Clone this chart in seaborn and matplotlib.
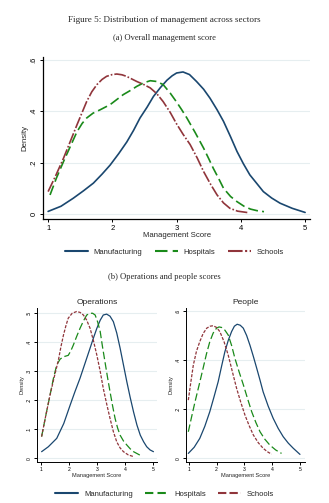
import numpy as np
import pandas as pd
import matplotlib
matplotlib.use("Agg")
import matplotlib.pyplot as plt
import seaborn as sns
from matplotlib.lines import Line2D

sns.set_theme(style="white")
plt.rcParams['font.family'] = ['Liberation Sans', 'DejaVu Sans']
plt.rcParams['lines.solid_joinstyle'] = 'round'
plt.rcParams['lines.dash_joinstyle'] = 'round'

sectors = ["Manufacturing", "Hospitals", "Schools"]
colors = {"Manufacturing": "#1a476f", "Hospitals": "#1a8a1a", "Schools": "#90353b"}

# (a) Overall management score - density curves
ov_man_x = [1.0, 1.2, 1.39, 1.55, 1.705, 1.84, 1.965, 2.1, 2.225, 2.33, 2.43, 2.54, 2.64, 2.75, 2.85, 2.93, 3.0, 3.1,
            3.2, 3.31, 3.42, 3.52, 3.63, 3.73, 3.84, 3.94, 4.04, 4.14, 4.25, 4.35, 4.48, 4.61, 4.8, 5.0]
ov_man_y = [0.010, 0.030, 0.061, 0.090, 0.12, 0.155, 0.19, 0.235, 0.28, 0.325, 0.373, 0.415, 0.457, 0.492, 0.52,
            0.537, 0.548, 0.552, 0.542, 0.515, 0.485, 0.45, 0.405, 0.36, 0.30, 0.243, 0.195, 0.152, 0.118, 0.087,
            0.062, 0.042, 0.022, 0.006]
ov_hos_x = [1.03, 1.13, 1.24, 1.35, 1.45, 1.53, 1.60, 1.70, 1.81, 1.965, 2.07, 2.17, 2.28, 2.38, 2.49, 2.59, 2.69,
            2.79, 2.9, 3.0, 3.08, 3.16, 3.29, 3.42, 3.5, 3.57, 3.65, 3.73, 3.84, 3.94, 4.05, 4.15, 4.25, 4.36]
ov_hos_y = [0.074, 0.14, 0.204, 0.265, 0.32, 0.352, 0.373, 0.392, 0.405, 0.425, 0.445, 0.464, 0.48, 0.496, 0.51,
            0.518, 0.515, 0.503, 0.47, 0.435, 0.405, 0.373, 0.316, 0.256, 0.215, 0.178, 0.14, 0.10, 0.068, 0.048,
            0.030, 0.019, 0.013, 0.009]
ov_sch_x = [1.0, 1.12, 1.24, 1.35, 1.45, 1.53, 1.60, 1.68, 1.76, 1.84, 1.91, 2.0, 2.07, 2.15, 2.22, 2.3, 2.38, 2.49,
            2.59, 2.69, 2.79, 2.9, 3.0, 3.1, 3.21, 3.32, 3.42, 3.53, 3.63, 3.73, 3.83, 3.95, 4.12]
ov_sch_y = [0.087, 0.15, 0.217, 0.285, 0.347, 0.395, 0.437, 0.475, 0.503, 0.523, 0.535, 0.542, 0.544, 0.541,
            0.535, 0.525, 0.515, 0.503, 0.49, 0.468, 0.437, 0.395, 0.35, 0.31, 0.27, 0.218, 0.165, 0.115, 0.074,
            0.043, 0.022, 0.011, 0.005]

# (b) Operations
op_man_x = [1.01, 1.25, 1.55, 1.8, 2.03, 2.2, 2.38, 2.56, 2.74, 2.86, 2.98, 3.1, 3.21, 3.33, 3.45, 3.57, 3.69,
            3.81, 3.93, 4.05, 4.17, 4.29, 4.41, 4.53, 4.65, 4.76, 4.88, 5.0]
op_man_y = [0.023, 0.04, 0.069, 0.12, 0.184, 0.23, 0.276, 0.328, 0.38, 0.415, 0.448, 0.476, 0.494, 0.497, 0.49,
            0.471, 0.432, 0.38, 0.322, 0.264, 0.21, 0.16, 0.115, 0.08, 0.057, 0.04, 0.029, 0.023]
op_hos_x = [1.01, 1.16, 1.31, 1.43, 1.55, 1.67, 1.79, 1.96, 2.05, 2.14, 2.26, 2.38, 2.5, 2.62, 2.74, 2.83, 2.92,
            3.01, 3.1, 3.18, 3.27, 3.36, 3.45, 3.54, 3.63, 3.72, 3.81, 3.93, 4.05, 4.17, 4.29, 4.52]
op_hos_y = [0.075, 0.148, 0.218, 0.275, 0.322, 0.342, 0.35, 0.355, 0.37, 0.39, 0.42, 0.448, 0.473, 0.494, 0.50,
            0.50, 0.494, 0.47, 0.437, 0.386, 0.333, 0.28, 0.23, 0.182, 0.138, 0.105, 0.08, 0.06, 0.046, 0.033,
            0.023, 0.011]
op_sch_x = [1.01, 1.16, 1.31, 1.46, 1.61, 1.70, 1.79, 1.88, 1.96, 2.1, 2.26, 2.38, 2.5, 2.62, 2.74, 2.86, 2.98,
            3.1, 3.21, 3.33, 3.45, 3.57, 3.69, 3.81, 3.93, 4.1, 4.29]
op_sch_y = [0.075, 0.148, 0.218, 0.28, 0.339, 0.385, 0.425, 0.458, 0.483, 0.5, 0.506, 0.503, 0.494, 0.476, 0.448,
            0.405, 0.356, 0.3, 0.241, 0.188, 0.138, 0.092, 0.057, 0.036, 0.023, 0.012, 0.006]

# (b) People
pe_man_x = [0.99, 1.2, 1.4, 1.58, 1.76, 1.91, 2.06, 2.18, 2.3, 2.42, 2.54, 2.64, 2.74, 2.85, 2.96, 3.08, 3.2,
            3.32, 3.44, 3.56, 3.67, 3.85, 4.03, 4.21, 4.39, 4.57, 4.75, 4.99]
pe_man_y = [0.02, 0.045, 0.081, 0.13, 0.19, 0.25, 0.312, 0.374, 0.434, 0.48, 0.516, 0.538, 0.546, 0.542, 0.53,
            0.5, 0.46, 0.415, 0.367, 0.318, 0.271, 0.213, 0.163, 0.122, 0.088, 0.062, 0.041, 0.016]
pe_hos_x = [0.99, 1.11, 1.23, 1.38, 1.52, 1.64, 1.76, 1.88, 2.0, 2.09, 2.18, 2.3, 2.42, 2.54, 2.66, 2.81, 2.96,
            3.11, 3.26, 3.41, 3.56, 3.73, 3.91, 4.12, 4.33]
pe_hos_y = [0.108, 0.17, 0.23, 0.30, 0.367, 0.425, 0.475, 0.51, 0.53, 0.535, 0.533, 0.522, 0.502, 0.46, 0.407,
            0.352, 0.30, 0.244, 0.19, 0.146, 0.108, 0.078, 0.054, 0.034, 0.02]
pe_sch_x = [0.99, 1.08, 1.17, 1.28, 1.4, 1.52, 1.65, 1.77, 1.88, 2.0, 2.12, 2.27, 2.42, 2.57, 2.72, 2.87, 3.02,
            3.17, 3.32, 3.5, 3.67, 3.82, 3.97]
pe_sch_y = [0.237, 0.31, 0.38, 0.435, 0.475, 0.508, 0.53, 0.538, 0.54, 0.533, 0.516, 0.475, 0.42, 0.352, 0.285,
            0.228, 0.176, 0.133, 0.095, 0.063, 0.041, 0.027, 0.017]

x_ticks = [1, 2, 3, 4, 5]


def frame(mx, my, hx, hy, sx, sy):
    parts = []
    for name, xs, ys in zip(sectors, [mx, hx, sx], [my, hy, sy]):
        parts.append(pd.DataFrame({"score": xs, "density": ys, "sector": name}))
    return pd.concat(parts, ignore_index=True)


df_ov = frame(ov_man_x, ov_man_y, ov_hos_x, ov_hos_y, ov_sch_x, ov_sch_y)
df_op = frame(op_man_x, op_man_y, op_hos_x, op_hos_y, op_sch_x, op_sch_y)
df_pe = frame(pe_man_x, pe_man_y, pe_hos_x, pe_hos_y, pe_sch_x, pe_sch_y)

dashes_top = {"Manufacturing": "", "Hospitals": (6, 2.5), "Schools": (7, 1.2, 1, 1.2)}
dashes_bot = {"Manufacturing": "", "Hospitals": (6, 2.5), "Schools": (2.5, 1.2)}

fig = plt.figure(figsize=(3.29, 5.03), dpi=100)
grid_c = "#e6eef0"
serif = ['Liberation Serif', 'DejaVu Serif']


def style(ax, yticks, ylabels, tfs, lfs, lw_axis=0.9):
    ax.set_yticks(yticks)
    ax.set_yticklabels(ylabels, rotation=90, va="center", fontsize=tfs)
    ax.set_xticks(x_ticks)
    ax.set_xticklabels([str(t) for t in x_ticks], fontsize=tfs)
    for s in ["top", "right"]:
        ax.spines[s].set_visible(False)
    for s in ["left", "bottom"]:
        ax.spines[s].set_color("black")
        ax.spines[s].set_linewidth(lw_axis)
    ax.tick_params(axis="both", which="both", length=2.5, width=0.7, pad=1.5,
                   left=True, bottom=True, colors="black")
    ax.grid(axis="y", color=grid_c, linewidth=0.8)
    ax.set_axisbelow(True)
    ax.set_xlabel("Management Score", fontsize=lfs, labelpad=0.5)
    ax.set_ylabel("Density", fontsize=lfs, labelpad=1.5)


# Top panel
ax1 = fig.add_axes([0.131, 0.5646, 0.8116, 0.322])
sns.lineplot(data=df_ov, x="score", y="density", hue="sector", style="sector",
             palette=colors, dashes=dashes_top, sort=False, linewidth=1.2,
             legend=False, ax=ax1, estimator=None)
ax1.set_xlim(0.922, 5.078)
ax1.set_ylim(-0.0195, 0.61)
style(ax1, [0, 0.2, 0.4, 0.6], ["0", ".2", ".4", ".6"], 5.5, 5.6)

# Operations
ax2 = fig.add_axes([0.1125, 0.082, 0.365, 0.3056])
sns.lineplot(data=df_op, x="score", y="density", hue="sector", style="sector",
             palette=colors, dashes=dashes_bot, sort=False, linewidth=0.9,
             legend=False, ax=ax2, estimator=None)
ax2.set_xlim(0.846, 5.13)
ax2.set_ylim(-0.0117, 0.518)
style(ax2, [0, 0.1, 0.2, 0.3, 0.4, 0.5], ["0", ".1", ".2", ".3", ".4", ".5"], 3.6, 4.1, 0.7)
ax2.set_title("Operations", fontsize=6, pad=3)

# People
ax3 = fig.add_axes([0.565, 0.082, 0.362, 0.3056])
sns.lineplot(data=df_pe, x="score", y="density", hue="sector", style="sector",
             palette=colors, dashes=dashes_bot, sort=False, linewidth=0.9,
             legend=False, ax=ax3, estimator=None)
ax3.set_xlim(0.903, 5.17)
ax3.set_ylim(-0.014, 0.612)
style(ax3, [0, 0.2, 0.4, 0.6], ["0", ".2", ".4", ".6"], 3.6, 4.1, 0.7)
ax3.set_title("People", fontsize=6, pad=3)

# Captions
fig.text(0.5, 1 - 20 / 503, "Figure 5: Distribution of management across sectors",
         ha="center", va="center", fontsize=6.6, family=serif)
fig.text(0.5, 1 - 38 / 503, "(a) Overall management score",
         ha="center", va="center", fontsize=6.1, family=serif)
fig.text(0.5, 1 - 277 / 503, "(b) Operations and people scores",
         ha="center", va="center", fontsize=6.1, family=serif)


def handles(dmap, lw):
    hs = []
    for s in sectors:
        d = dmap[s]
        if d == "":
            hs.append(Line2D([], [], color=colors[s], lw=lw, linestyle="-"))
        else:
            hs.append(Line2D([], [], color=colors[s], lw=lw, linestyle=(0, d)))
    return hs


fig.legend(handles(dashes_top, 1.5), sectors, loc="center", ncol=3,
           bbox_to_anchor=(0.53, 1 - 252 / 503), frameon=False, fontsize=5.5,
           handlelength=3.0, columnspacing=1.6, handletextpad=0.8)
fig.legend(handles({"Manufacturing": "", "Hospitals": (4, 2), "Schools": (4, 1.5)}, 1.5),
           sectors, loc="center", ncol=3,
           bbox_to_anchor=(0.5, 1 - 494 / 503), frameon=False, fontsize=5.5,
           handlelength=3.0, columnspacing=1.6, handletextpad=0.8)

fig.savefig("out.png", dpi=100)
